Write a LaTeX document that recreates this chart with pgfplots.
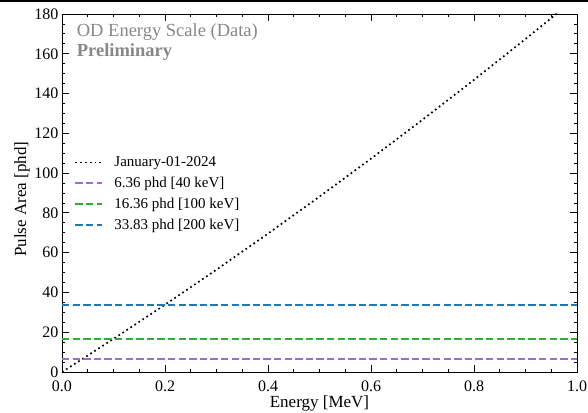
\documentclass[border=0pt]{standalone}
\usepackage{fontspec}
\setmainfont{Liberation Serif}
\usepackage{pgfplots}
\pgfplotsset{compat=1.18}
\definecolor{cpurple}{RGB}{155,110,200}
\definecolor{cgreen}{RGB}{50,175,50}
\definecolor{cblue}{RGB}{31,119,180}
\definecolor{cgray}{RGB}{135,135,135}
\begin{document}
\begin{tikzpicture}
\path[use as bounding box] (-62pt,-40pt) rectangle (526pt,372pt);
\begin{axis}[
  at={(0,0)}, anchor=south west, scale only axis,
  width=515pt, height=358pt,
  xmin=0, xmax=1, ymin=0, ymax=180,
  xtick={0,0.2,0.4,0.6,0.8,1}, ytick={0,20,40,60,80,100,120,140,160,180},
  minor x tick num=3, minor y tick num=3,
  xtick pos=both, ytick pos=both,
  tick align=inside,
  major tick length=7pt, minor tick length=3.5pt,
  every tick/.style={black, line width=0.8pt},
  axis line style={line width=0.8pt},
  /pgf/number format/assume math mode=true,
  xticklabel style={/pgf/number format/fixed, /pgf/number format/precision=1, /pgf/number format/fixed zerofill, inner ysep=0pt, yshift=-9pt},
  yticklabel style={inner ysep=0pt},
  every tick label/.append style={font=\fontsize{16}{19}\selectfont},
  xlabel={Energy [MeV]}, ylabel={Pulse Area [phd]},
  xlabel style={at={(axis description cs:0.5,-0.0866)}, anchor=center, font=\fontsize{17}{20}\selectfont},
  ylabel style={at={(axis description cs:-0.0777,0.483)}, anchor=center, font=\fontsize{17}{20}\selectfont},
  legend cell align=left,
  legend style={at={(axis description cs:0.018,0.613)}, anchor=north west, draw=none, fill=none,
    font=\fontsize{15}{18}\selectfont, row sep=5pt, column sep=9pt},
  legend image code/.code={\draw[#1] (0pt,0pt) -- (27pt,0pt);},
]
\addplot[black, line width=1.7pt, dash pattern=on 1.7pt off 3.1pt] coordinates {
(0,0) (0.05,8.28) (0.1,16.67) (0.2,33.83) (0.3,51.46) (0.4,69.58) (0.5,88.19)
(0.6,107.27) (0.7,126.84) (0.8,146.90) (0.9,167.43) (1.0,188.45)};
\addlegendentry{January-01-2024}
\addplot[cpurple, line width=2pt, dash pattern=on 7.4pt off 3.2pt] coordinates {(0,6.36) (1,6.36)};
\addlegendentry{6.36 phd [40 keV]}
\addplot[cgreen, line width=2pt, dash pattern=on 7.4pt off 3.2pt] coordinates {(0,16.36) (1,16.36)};
\addlegendentry{16.36 phd [100 keV]}
\addplot[cblue, line width=2pt, dash pattern=on 7.4pt off 3.2pt] coordinates {(0,33.83) (1,33.83)};
\addlegendentry{33.83 phd [200 keV]}
\node[anchor=west, text=cgray, font=\fontsize{18.5}{22}\selectfont] at (rel axis cs:0.022,0.95) {OD Energy Scale (Data)};
\node[anchor=west, text=cgray, font=\fontsize{18.5}{22}\selectfont\bfseries] at (rel axis cs:0.022,0.894) {Preliminary};
\end{axis}
\draw[line width=2pt] (-62pt,370.5pt) -- (526pt,370.5pt);
\end{tikzpicture}
\end{document}
